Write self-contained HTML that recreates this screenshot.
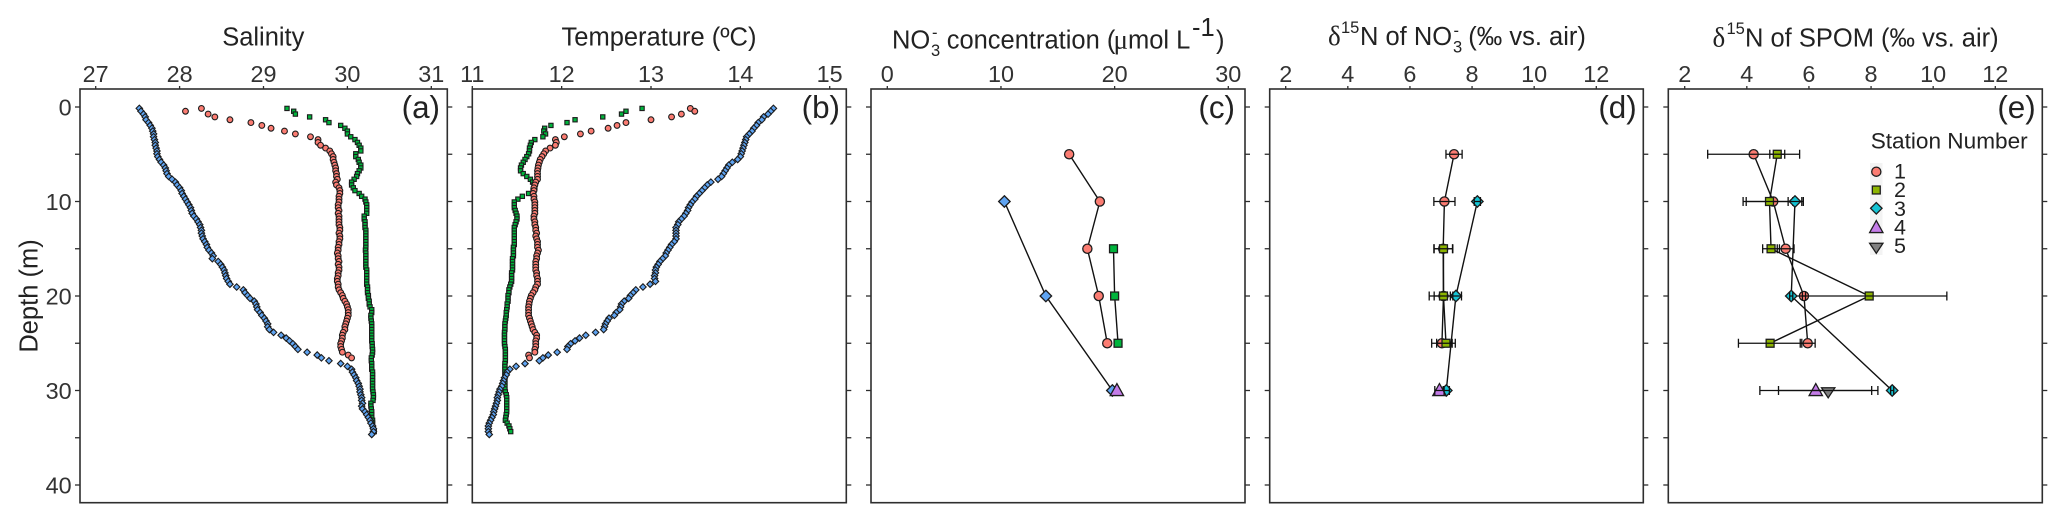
<!DOCTYPE html>
<html lang="en">
<head>
<meta charset="utf-8">
<title>Depth profiles by station</title>
<style>
html,body{margin:0;padding:0;background:#fff;width:2067px;height:525px;overflow:hidden}
svg{display:block;filter:blur(0.35px)}
text{font-family:"Liberation Sans",sans-serif;fill:#222}
.title{font-size:25.5px}
.sup{font-size:16.5px}
.greek{font-family:"Liberation Serif",serif;font-size:27px}
.tick{font-size:23.4px;fill:#333}
.letter{font-size:31.4px;text-anchor:end}
.legend{font-size:22.6px}
.legend-digit{font-size:21.5px}
</style>
</head>
<body>
<svg id="chart" xmlns="http://www.w3.org/2000/svg" width="2067" height="525" viewBox="0 0 2067 525">
<rect x="0" y="0" width="2067" height="525" fill="#fff"/>
<text class="title" transform="translate(37.5,296) rotate(-90)" text-anchor="middle">Depth (m)</text>
<text class="title" x="263.3" y="45.7" text-anchor="middle">Salinity</text>
<text class="title" x="659" y="45.7" text-anchor="middle">Temperature (ºC)</text>
<g>
<text class="title" x="892" y="48.3">NO</text>
<text class="sup" x="931" y="56">3</text>
<text class="sup" x="932" y="38">-</text>
<text class="title" x="946.7" y="48.3">concentration (</text>
<text class="greek" x="1113.5" y="48.3">μ</text>
<text class="title" x="1128" y="48.3">mol L</text>
<text class="title" x="1192" y="36">-1</text>
<text class="title" x="1216" y="48.3">)</text>
</g>
<g>
<text class="greek" x="1328" y="45">δ</text>
<text class="sup" x="1341" y="33">15</text>
<text class="title" x="1360" y="45">N of NO</text>
<text class="sup" x="1453" y="52.7">3</text>
<text class="sup" x="1453.5" y="36">-</text>
<text class="title" x="1468.3" y="45">(‰ vs. air)</text>
</g>
<g>
<text class="greek" x="1712.5" y="46.7">δ</text>
<text class="sup" x="1726.5" y="34">15</text>
<text class="title" x="1745" y="46.7">N of SPOM (‰ vs. air)</text>
</g>
<text class="letter" x="440" y="118">(a)</text>
<text class="letter" x="840" y="118">(b)</text>
<text class="letter" x="1235" y="118">(c)</text>
<text class="letter" x="1636.7" y="118">(d)</text>
<text class="letter" x="2035.7" y="118">(e)</text>
<text class="legend" x="1870.7" y="148.3">Station Number</text>
<rect x="1870" y="163" width="12.5" height="92" fill="#f3f3f3"/>
<text class="legend-digit" x="1894" y="178.6">1</text>
<text class="legend-digit" x="1894" y="197">2</text>
<text class="legend-digit" x="1894" y="216">3</text>
<text class="legend-digit" x="1894" y="234.5">4</text>
<text class="legend-digit" x="1894" y="253">5</text>
<g id="plots"></g>
</svg>
<script>
// CTD depth bins (m)
const ctdDepths = [0.15,0.45,0.75,1.05,1.35,1.65,1.95,2.25,2.55,2.85,3.15,3.45,3.75,4.05,4.35,4.65,4.95,5.25,5.55,5.85,6.15,6.45,6.75,7.05,7.35,7.65,7.95,8.25,8.55,8.85,9.15,9.45,9.75,10.05,10.35,10.65,10.95,11.25,11.55,11.85,12.15,12.45,12.75,13.05,13.35,13.65,13.95,14.25,14.55,14.85,15.15,15.45,15.75,16.05,16.35,16.65,16.95,17.25,17.55,17.85,18.15,18.45,18.75,19.05,19.35,19.65,19.95,20.25,20.55,20.85,21.15,21.45,21.75,22.05,22.35,22.65,22.95,23.25,23.55,23.85,24.15,24.45,24.75,25.05,25.35,25.65,25.95,26.25,26.55,26.85,27.15,27.45,27.75,28.05,28.35,28.65,28.95,29.25,29.55,29.85,30.15,30.45,30.75,31.05,31.35,31.65,31.95,32.25,32.55,32.85,33.15,33.45,33.75,34.05,34.35,34.65];

const salinityStation1 = [28.26,28.07,28.34,28.42,28.60,28.85,28.98,29.09,29.25,29.38,
29.56,29.65,29.65,29.68,29.74,29.79,29.81,29.83,29.83,29.84,
29.85,29.86,29.86,29.87,29.87,29.88,29.86,29.87,29.90,29.91,
29.91,29.90,29.90,29.90,29.89,29.89,29.90,29.89,29.90,29.90,
29.90,29.90,29.91,29.91,29.90,29.91,29.91,29.90,29.90,29.89,
29.89,29.88,29.89,29.89,29.90,29.89,29.90,29.90,29.89,29.89,
29.88,29.88,29.89,29.89,29.90,29.92,29.94,29.95,29.97,29.99,
30.00,30.01,30.01,30.01,30.00,29.99,29.98,29.97,29.97,29.95,
29.94,29.94,29.93,29.92,29.92,29.93,29.94,30.01,30.05];

const salinityStation2 = [29.28,29.36,29.38,29.55,29.74,29.78,29.92,29.97,30.00,30.00,
30.04,30.09,30.12,30.14,30.16,30.16,30.10,30.10,30.13,30.14,
30.16,30.16,30.14,30.12,30.11,30.08,30.05,30.05,30.07,30.09,
30.14,30.17,30.21,30.22,30.23,30.23,30.23,30.23,30.20,30.20,
30.21,30.21,30.21,30.22,30.22,30.22,30.22,30.22,30.22,30.22,
30.215,30.22,30.22,30.22,30.22,30.22,30.22,30.23,30.23,30.23,
30.23,30.23,30.23,30.24,30.24,30.24,30.25,30.25,30.26,30.26,
30.27,30.29,30.29,30.28,30.28,30.285,30.29,30.29,30.29,30.29,
30.29,30.29,30.29,30.295,30.295,30.30,30.30,30.295,30.285,30.285,
30.29,30.29,30.29,30.30,30.30,30.30,30.30,30.30,30.30,30.30,
30.305,30.31,30.31,30.305,30.28,30.28,30.285,30.29,30.29,30.29,
30.30,30.30,30.30,30.31,30.32];

const salinityStation3 = [27.52,27.54,27.57,27.59,27.60,27.63,27.65,27.67,27.68,27.69,
27.69,27.70,27.71,27.71,27.72,27.73,27.73,27.74,27.76,27.78,
27.81,27.83,27.84,27.85,27.87,27.91,27.95,27.97,28.00,28.02,
28.03,28.05,28.07,28.09,28.11,28.13,28.14,28.15,28.17,28.20,
28.22,28.24,28.25,28.26,28.26,28.27,28.28,28.30,28.32,28.33,
28.35,28.38,28.40,28.39,28.46,28.49,28.51,28.53,28.54,28.55,
28.56,28.58,28.60,28.68,28.76,28.78,28.81,28.84,28.89,28.91,
28.92,28.93,28.96,28.98,29.01,29.03,29.05,29.05,29.07,29.12,
29.21,29.27,29.31,29.35,29.38,29.41,29.52,29.64,29.69,29.78,
29.92,30.00,30.05,30.06,30.08,30.10,30.11,30.13,30.14,30.15,
30.15,30.16,30.17,30.17,30.18,30.17,30.18,30.21,30.23,30.25,
30.27,30.28,30.30,30.31,30.31,30.29];

const temperatureStation1 = [13.44,13.49,13.34,13.23,13.00,12.72,12.62,12.52,12.33,12.21,
12.03,11.93,11.94,11.93,11.87,11.82,11.80,11.78,11.76,11.75,
11.74,11.735,11.73,11.73,11.73,11.73,11.71,11.70,11.69,11.69,
11.68,11.69,11.69,11.70,11.70,11.70,11.70,11.70,11.69,11.69,
11.70,11.70,11.71,11.71,11.72,11.71,11.72,11.73,11.73,11.73,
11.74,11.73,11.72,11.72,11.71,11.71,11.71,11.71,11.72,11.72,
11.73,11.73,11.73,11.71,11.70,11.68,11.66,11.65,11.64,11.635,
11.63,11.63,11.63,11.63,11.64,11.65,11.66,11.67,11.68,11.70,
11.72,11.72,11.71,11.71,11.71,11.70,11.70,11.63,11.64];

const temperatureStation2 = [12.90,12.72,12.67,12.46,12.15,12.06,11.88,11.81,11.80,11.82,
11.79,11.70,11.66,11.65,11.64,11.64,11.63,11.61,11.59,11.57,
11.55,11.54,11.54,11.57,11.61,11.65,11.675,11.69,11.70,11.68,
11.63,11.56,11.51,11.47,11.47,11.47,11.48,11.49,11.50,11.50,
11.49,11.48,11.47,11.47,11.47,11.47,11.47,11.47,11.47,11.46,
11.46,11.46,11.46,11.45,11.45,11.45,11.45,11.45,11.44,11.44,
11.44,11.44,11.43,11.42,11.41,11.41,11.40,11.40,11.40,11.39,
11.39,11.385,11.38,11.38,11.375,11.37,11.365,11.365,11.365,11.36,
11.36,11.36,11.36,11.36,11.365,11.37,11.37,11.37,11.37,11.37,
11.365,11.365,11.365,11.365,11.365,11.365,11.365,11.365,11.365,11.365,
11.37,11.38,11.385,11.385,11.385,11.385,11.385,11.385,11.38,11.375,
11.37,11.39,11.41,11.42,11.43];

const temperatureStation3 = [14.37,14.34,14.31,14.26,14.24,14.20,14.18,14.15,14.13,14.10,
14.07,14.06,14.05,14.04,14.03,14.02,14.01,14.00,13.97,13.91,
13.87,13.85,13.83,13.81,13.79,13.75,13.67,13.63,13.60,13.57,
13.54,13.51,13.49,13.46,13.44,13.42,13.41,13.39,13.37,13.34,
13.31,13.30,13.28,13.28,13.28,13.28,13.28,13.26,13.23,13.21,
13.19,13.17,13.16,13.13,13.10,13.08,13.06,13.05,13.05,13.04,
13.04,13.05,12.99,12.91,12.83,12.80,12.77,12.75,12.70,12.67,
12.66,12.65,12.61,12.59,12.53,12.51,12.49,12.48,12.47,12.38,
12.27,12.20,12.15,12.10,12.07,12.06,11.95,11.85,11.79,11.75,
11.59,11.49,11.42,11.39,11.38,11.36,11.35,11.34,11.33,11.31,
11.30,11.29,11.28,11.28,11.27,11.26,11.25,11.24,11.235,11.22,
11.205,11.19,11.18,11.18,11.18,11.19];

// Discrete sample depths (m)
const sampleDepths1 = [5,10,15,20,25];
const sampleDepths2 = [15,20,25];
const sampleDepths3 = [10,20,30];
const sampleDepthsE2 = [5,10,15,20,25];
const sampleDepths45 = [30];

// Panel c: nitrate concentration
const nitrateStation1 = [16.0,18.7,17.6,18.6,19.35];
const nitrateStation2 = [19.9,20.0,20.3];
const nitrateStation3 = [10.3,13.95,19.8];
const nitrateStation4 = [20.2];

// Panel d: delta-15N of nitrate, with error half-widths
const dnNitrateStation1 = [7.42,7.11,7.07,7.08,7.03];
const dnNitrateErr1 = [0.26,0.34,0.30,0.46,0.33];
const dnNitrateStation2 = [7.08,7.08,7.16];
const dnNitrateErr2 = [0.30,0.30,0.30];
const dnNitrateStation3 = [8.17,7.48,7.17];
const dnNitrateErr3 = [0.10,0.18,0.10];
const dnNitrateStation4 = [6.95];
const dnNitrateErr4 = [0.15];

// Panel e: delta-15N of SPOM, with error half-widths
const dnSpomStation1 = [4.22,4.85,5.25,5.84,5.96];
const dnSpomErr1 = [1.48,0.97,0.27,0.05,0.24];
const dnSpomStation2 = [4.98,4.73,4.78,7.94,4.75];
const dnSpomErr2 = [0.24,0.75,0.27,2.50,1.02];
const dnSpomStation3 = [5.55,5.43,8.68];
const dnSpomErr3 = [0.22,0.05,0.05];
const dnSpomStation4 = [6.22];
const dnSpomErr4 = [1.80];
const dnSpomStation5 = [6.62];
const dnSpomErr5 = [1.60];

// Axis tick labels
const depthTicks = [0,5,10,15,20,25,30,35,40];
const depthTickLabels = [0,10,20,30,40];
const salinityTicks = [27,28,29,30,31];
const temperatureTicks = [11,12,13,14,15];
const nitrateTicks = [0,10,20,30];
const deltaTicks = [2,4,6,8,10,12];

// Legend
const legendStations = [1,2,3,4,5];

const NS = 'http://www.w3.org/2000/svg';
const root = document.getElementById('plots');
const INK = '#1c1c1c';
const RED = '#fb7c72', GREEN = '#00b43c', BLUE = '#5fa4f2', PURPLE = '#c47ce8', OLIVE = '#8cb400', CYAN = '#14c4d4', GRAY = '#808080';
const PLOT_TOP = 89, PLOT_BOTTOM = 502.7;

function yScale(depth){ return 107 + 9.45 * depth; }
function linear(v0, p0, v1, p1){ return function(v){ return p0 + (v - v0) * (p1 - p0) / (v1 - v0); }; }

function svgEl(tag, attrs, parent){
  const el = document.createElementNS(NS, tag);
  for (const k in attrs) el.setAttribute(k, attrs[k]);
  (parent || root).appendChild(el);
  return el;
}

function drawMarker(shape, x, y, size, fill, name, parent){
  let el;
  const sw = size > 4 ? 1.3 : 1.1;
  if (shape === 'circle') {
    el = svgEl('circle', {cx:x, cy:y, r:size, fill:fill, stroke:INK, 'stroke-width':sw}, parent);
  } else if (shape === 'square') {
    el = svgEl('rect', {x:x-size*0.86, y:y-size*0.86, width:size*1.72, height:size*1.72, fill:fill, stroke:INK, 'stroke-width':sw}, parent);
  } else if (shape === 'diamond') {
    const h = size * 1.25;
    el = svgEl('polygon', {points:[x,y-h,x+h,y,x,y+h,x-h,y].join(' '), fill:fill, stroke:INK, 'stroke-width':sw}, parent);
  } else if (shape === 'triangle') {
    const w = size * 1.45;
    el = svgEl('polygon', {points:[x,y-size*1.5,x+w,y+size*1.1,x-w,y+size*1.1].join(' '), fill:fill, stroke:INK, 'stroke-width':sw}, parent);
  } else {
    const w = size * 1.45;
    el = svgEl('polygon', {points:[x-w,y-size*0.6,x+w,y-size*0.6,x,y+size*1.6].join(' '), fill:fill, stroke:INK, 'stroke-width':sw}, parent);
  }
  
  
  return el;
}

function drawAxes(panel, left, right, xScale, xTicks, showDepthLabels){
  const g = svgEl('g', {});
  
  
  const frame = svgEl('rect', {x:left, y:PLOT_TOP, width:right-left, height:PLOT_BOTTOM-PLOT_TOP, fill:'none', stroke:'#2e2e2e', 'stroke-width':1.6}, g);
  
  
  depthTicks.forEach(function(d){
    const y = yScale(d);
    const lt = svgEl('line', {x1:left-5, x2:left, y1:y, y2:y, stroke:'#2e2e2e', 'stroke-width':1.3}, g);
    
    
    const rt = svgEl('line', {x1:right, x2:right+5, y1:y, y2:y, stroke:'#2e2e2e', 'stroke-width':1.3}, g);
    
    
  });
  if (showDepthLabels) {
    depthTickLabels.forEach(function(d){
      const t = svgEl('text', {x:71.7, y:yScale(d)+8.3, 'text-anchor':'end', class:'tick'}, g);
      t.textContent = String(d);
      
      
    });
  }
  xTicks.forEach(function(v){
    const x = xScale(v);
    const tk = svgEl('line', {x1:x, x2:x, y1:PLOT_TOP-3, y2:PLOT_TOP, stroke:'#2e2e2e', 'stroke-width':1.3}, g);
    
    
    const t = svgEl('text', {x:x, y:81.8, 'text-anchor':'middle', class:'tick'}, g);
    t.textContent = String(v);
    
    
  });
}

function drawProfile(name, values, xScale, shape, size, fill){
  const g = svgEl('g', {});
  
  
  values.forEach(function(v, i){
    drawMarker(shape, xScale(v), yScale(ctdDepths[i]), size, fill, name + '-point', g);
  });
}

function drawSeries(name, depths, values, errs, xScale, shape, size, fill){
  const g = svgEl('g', {});
  
  
  if (values.length > 1) {
    const pts = values.map(function(v, i){ return xScale(v) + ',' + yScale(depths[i]); }).join(' ');
    const line = svgEl('polyline', {points:pts, fill:'none', stroke:'#111', 'stroke-width':1.4}, g);
    
    
  }
  return {g:g, name:name, depths:depths, values:values, errs:errs, xScale:xScale, shape:shape, size:size, fill:fill};
}

function finishSeries(s){
  s.values.forEach(function(v, i){
    drawMarker(s.shape, s.xScale(v), yScale(s.depths[i]), s.size, s.fill, s.name + '-point', s.g);
  });
  if (!s.errs) return;
  s.values.forEach(function(v, i){
    const y = yScale(s.depths[i]);
    const x0 = s.xScale(v - s.errs[i]);
    const x1 = s.xScale(v + s.errs[i]);
    const bar = svgEl('path', {d:'M'+x0+' '+(y-4.5)+'V'+(y+4.5)+'M'+x0+' '+y+'H'+x1+'M'+x1+' '+(y-4.5)+'V'+(y+4.5), fill:'none', stroke:'#111', 'stroke-width':1.3}, s.g);
    
    
  });
}

// Panel a
const xSalinity = linear(27, 95.7, 31, 431.3);
drawAxes('panel-a', 80, 447.3, xSalinity, salinityTicks, true);
drawProfile('salinity-station-2', salinityStation2, xSalinity, 'square', 2.5, GREEN);
drawProfile('salinity-station-1', salinityStation1, xSalinity, 'circle', 2.9, RED);
drawProfile('salinity-station-3', salinityStation3, xSalinity, 'diamond', 2.6, BLUE);

// Panel b
const xTemperature = linear(11, 472.3, 15, 829.7);
drawAxes('panel-b', 472.3, 846.3, xTemperature, temperatureTicks, false);
drawProfile('temperature-station-2', temperatureStation2, xTemperature, 'square', 2.5, GREEN);
drawProfile('temperature-station-1', temperatureStation1, xTemperature, 'circle', 2.9, RED);
drawProfile('temperature-station-3', temperatureStation3, xTemperature, 'diamond', 2.6, BLUE);

// Panel c
const xNitrate = linear(0, 887.3, 30, 1228.3);
drawAxes('panel-c', 871, 1245, xNitrate, nitrateTicks, false);
[
  drawSeries('nitrate-station-1', sampleDepths1, nitrateStation1, null, xNitrate, 'circle', 4.6, RED),
  drawSeries('nitrate-station-2', sampleDepths2, nitrateStation2, null, xNitrate, 'square', 4.6, GREEN),
  drawSeries('nitrate-station-3', sampleDepths3, nitrateStation3, null, xNitrate, 'diamond', 4.6, BLUE),
  drawSeries('nitrate-station-4', sampleDepths45, nitrateStation4, null, xNitrate, 'triangle', 4.6, PURPLE)
].forEach(finishSeries);

// Panel d
const xDeltaD = linear(2, 1285.7, 12, 1596.3);
drawAxes('panel-d', 1269.7, 1643.3, xDeltaD, deltaTicks, false);
[
  drawSeries('d15n-nitrate-station-1', sampleDepths1, dnNitrateStation1, dnNitrateErr1, xDeltaD, 'circle', 4.6, RED),
  drawSeries('d15n-nitrate-station-3', sampleDepths3, dnNitrateStation3, dnNitrateErr3, xDeltaD, 'diamond', 4.6, CYAN),
  drawSeries('d15n-nitrate-station-2', sampleDepths2, dnNitrateStation2, dnNitrateErr2, xDeltaD, 'square', 4.6, OLIVE),
  drawSeries('d15n-nitrate-station-4', sampleDepths45, dnNitrateStation4, dnNitrateErr4, xDeltaD, 'triangle', 4.6, PURPLE)
].forEach(finishSeries);

// Panel e
const xDeltaE = linear(2, 1684.7, 12, 1995.3);
drawAxes('panel-e', 1668.3, 2042.3, xDeltaE, deltaTicks, false);
[
  drawSeries('d15n-spom-station-1', sampleDepths1, dnSpomStation1, dnSpomErr1, xDeltaE, 'circle', 4.6, RED),
  drawSeries('d15n-spom-station-2', sampleDepthsE2, dnSpomStation2, dnSpomErr2, xDeltaE, 'square', 4.6, OLIVE),
  drawSeries('d15n-spom-station-3', sampleDepths3, dnSpomStation3, dnSpomErr3, xDeltaE, 'diamond', 4.6, CYAN),
  drawSeries('d15n-spom-station-4', sampleDepths45, dnSpomStation4, dnSpomErr4, xDeltaE, 'triangle', 4.6, PURPLE),
  drawSeries('d15n-spom-station-5', sampleDepths45, dnSpomStation5, dnSpomErr5, xDeltaE, 'down-triangle', 4.6, GRAY)
].forEach(finishSeries);

// Legend markers
const legendShapes = ['circle','square','diamond','triangle','down-triangle'];
const legendFills = [RED, OLIVE, CYAN, PURPLE, GRAY];
const legendRowY = [171.7,190,208.3,227.5,246];
legendStations.forEach(function(s, i){
  drawMarker(legendShapes[i], 1876.3, legendRowY[i], 4.6, legendFills[i], 'legend-marker-' + s, root);
});
</script>
</body>
</html>
